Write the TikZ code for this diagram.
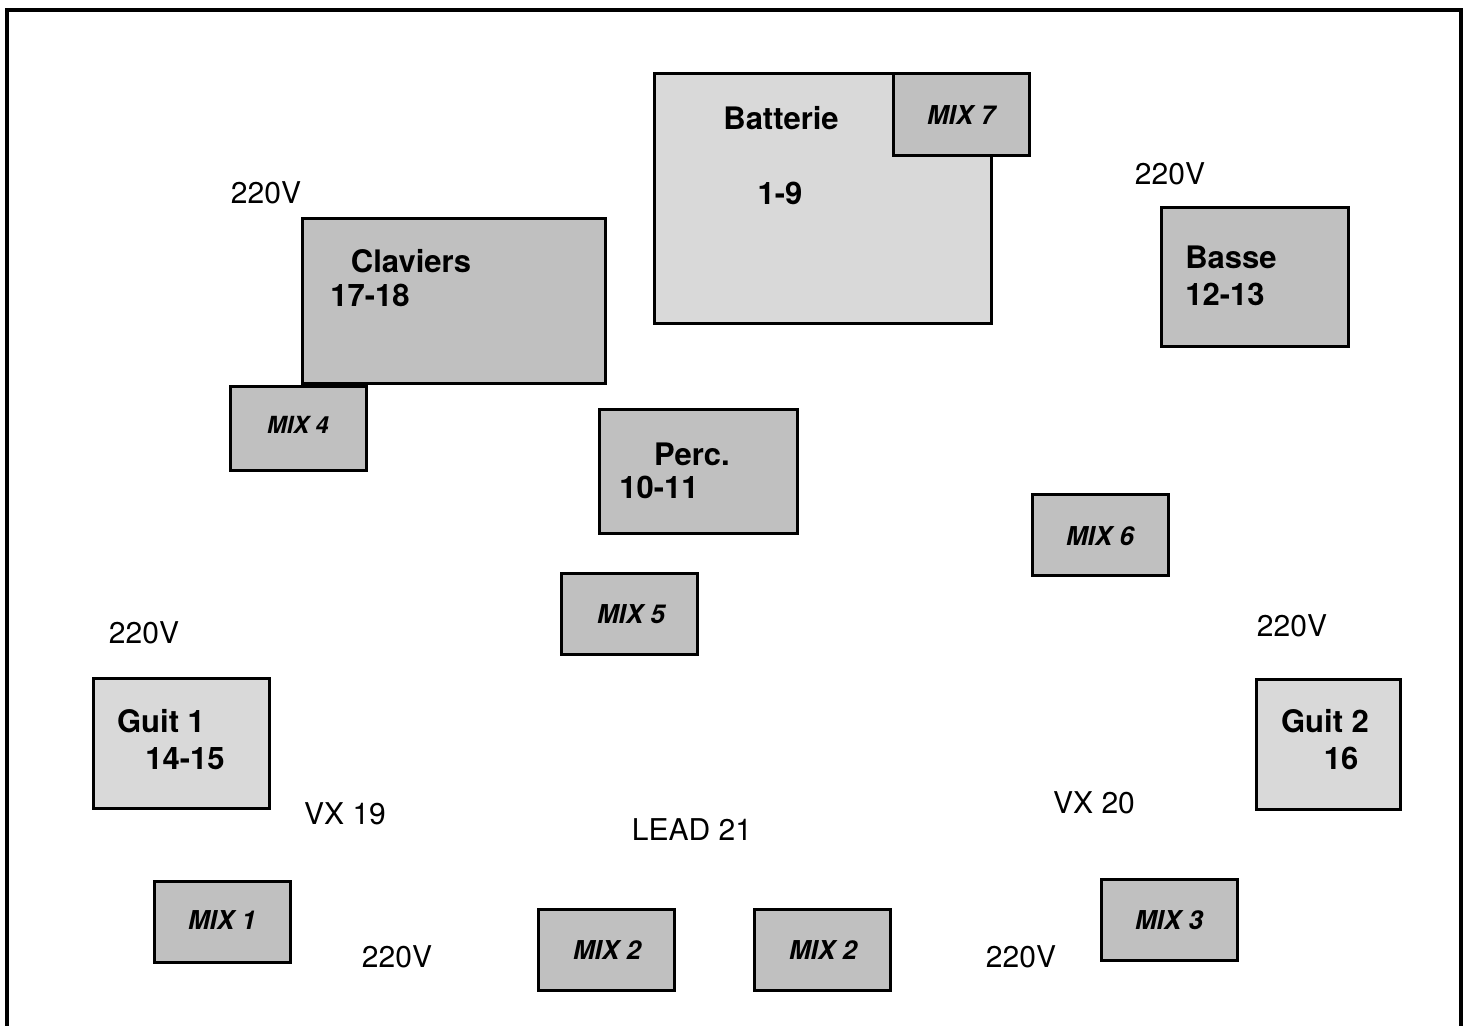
\documentclass[tikz,border=0pt]{standalone}
\usepackage{fontspec}
\setmainfont{TeX Gyre Heros}
\usepackage{tikz}
\usetikzlibrary{positioning}
\definecolor{lightBox}{RGB}{217,217,217}
\definecolor{darkBox}{RGB}{192,192,192}
\tikzset{
    stageBox/.style={
        draw=black,
        line width=1.5pt,
        inner sep=0pt
    },
    lightStage/.style={stageBox, fill=lightBox},
    darkStage/.style={stageBox, fill=darkBox},
    mixBox/.style={darkStage, minimum width=68pt, minimum height=40.5pt},
    nameLabel/.style={font=\fontsize{15.5}{18}\selectfont\bfseries, text height=11pt, text depth=0pt, inner sep=0pt},
    mixLabel/.style={font=\fontsize{13}{15}\selectfont\bfseries\itshape, text height=9.3pt, text depth=0pt, inner sep=0pt},
    plainLabel/.style={font=\fontsize{15}{18}\selectfont, text height=10.7pt, text depth=0pt, inner sep=0pt}
}
\begin{document}
\begin{tikzpicture}[x=0.5pt, y=-0.5pt]
    \useasboundingbox (0,0) rectangle (1468,1025);
    \clip (0,0) rectangle (1468,1025);

    % Frame (open at the bottom)
    \draw[line width=1.6pt] (7,1040) -- (7,10) -- (1461,10) -- (1461,1040);

    % Batterie with MIX 7 on its corner
    \node[lightStage, minimum width=168.5pt, minimum height=125pt] (bat) at (822.5,198) {};
    \node[nameLabel] (batName) at (781,118) {Batterie};
    \node[nameLabel] (batCh) at (780,193) {1-9};
    \node[mixBox, minimum height=41pt] (mixSeven) at (961,114) {};
    \node[mixLabel] (mixSevenTxt) at (961,115) {MIX 7};

    % Claviers
    \node[darkStage, minimum width=151.5pt, minimum height=82.5pt] (clav) at (453.5,300.5) {};
    \node[nameLabel] (clavName) at (411,261) {Claviers};
    \node[nameLabel] (clavCh) at (370,295) {17-18};
    \node[mixBox, minimum height=42pt] (mixFour) at (298,428) {};
    \node[mixLabel, font=\fontsize{11.8}{14}\selectfont\bfseries\itshape, text height=8.5pt] (mixFourTxt) at (298,425) {MIX 4};

    % Basse
    \node[darkStage, minimum width=93.5pt, minimum height=69.5pt] (basse) at (1254.5,276.5) {};
    \node[nameLabel] (basseName) at (1231,257) {Basse};
    \node[nameLabel] (basseCh) at (1225,294) {12-13};

    % Percussions
    \node[darkStage, minimum width=99pt, minimum height=62pt] (perc) at (698,471) {};
    \node[nameLabel] (percName) at (692,454) {Perc.};
    \node[nameLabel] (percCh) at (659,487) {10-11};

    % Middle mixes
    \node[mixBox] (mixSix) at (1100,534.5) {};
    \node[mixLabel] (mixSixTxt) at (1100,536) {MIX 6};
    \node[mixBox] (mixFive) at (629,613.5) {};
    \node[mixLabel] (mixFiveTxt) at (631,614) {MIX 5};

    % Guitars
    \node[lightStage, minimum width=88pt, minimum height=65pt] (guitOne) at (181,743) {};
    \node[nameLabel] (guitOneName) at (161,721) {Guit 1};
    \node[nameLabel] (guitOneCh) at (185,758) {14-15};
    \node[lightStage, minimum width=72pt, minimum height=65pt] (guitTwo) at (1328,744) {};
    \node[nameLabel] (guitTwoName) at (1325,721) {Guit 2};
    \node[nameLabel] (guitTwoCh) at (1341,758) {16};

    % Front mixes
    \node[mixBox] (mixOne) at (222,921.5) {};
    \node[mixLabel] (mixOneTxt) at (222,920) {MIX 1};
    \node[mixBox] (mixTwoA) at (606,949.5) {};
    \node[mixLabel] (mixTwoATxt) at (607,950) {MIX 2};
    \node[mixBox] (mixTwoB) at (822,949.5) {};
    \node[mixLabel] (mixTwoBTxt) at (823,950) {MIX 2};
    \node[mixBox] (mixThree) at (1169,919.5) {};
    \node[mixLabel] (mixThreeTxt) at (1169,920) {MIX 3};

    % Power points
    \node[plainLabel] (pwrClav) at (266,193) {220V};
    \node[plainLabel] (pwrBasse) at (1170,174) {220V};
    \node[plainLabel] (pwrGuitOne) at (144,633) {220V};
    \node[plainLabel] (pwrGuitTwo) at (1292,626) {220V};
    \node[plainLabel] (pwrLeft) at (397,957) {220V};
    \node[plainLabel] (pwrRight) at (1021,957) {220V};

    % Vocals
    \node[plainLabel] (vxOne) at (345,814) {VX 19};
    \node[plainLabel] (lead) at (692,830) {LEAD 21};
    \node[plainLabel] (vxTwo) at (1094,803) {VX 20};

\end{tikzpicture}
\end{document}
